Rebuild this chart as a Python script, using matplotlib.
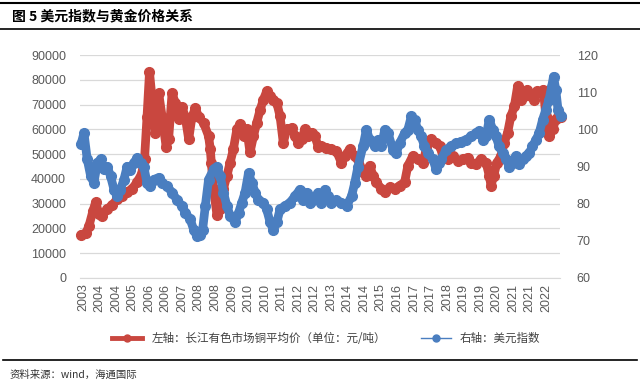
import matplotlib
matplotlib.use('Agg')
import matplotlib.pyplot as plt
from matplotlib.lines import Line2D

plt.rcParams['font.family'] = ['Noto Sans CJK SC', 'DejaVu Sans']

# 长江有色市场铜平均价 (元/吨)
cu_year = [2003.40, 2003.59, 2003.72, 2003.88, 2003.99, 2004.12, 2004.26, 2004.46, 2004.66, 2004.86,
           2005.06, 2005.26, 2005.46, 2005.66, 2005.84, 2005.96, 2006.06, 2006.16, 2006.27, 2006.40,
           2006.53, 2006.67, 2006.83, 2006.93, 2007.07, 2007.20, 2007.34, 2007.47, 2007.60, 2007.74,
           2007.87, 2008.01, 2008.14, 2008.34, 2008.54, 2008.61, 2008.65, 2008.74, 2008.88, 2009.01,
           2009.14, 2009.28, 2009.41, 2009.54, 2009.68, 2009.81, 2009.95, 2010.08, 2010.21, 2010.35,
           2010.48, 2010.62, 2010.75, 2010.88, 2011.02, 2011.15, 2011.29, 2011.42, 2011.55, 2011.69,
           2011.89, 2012.02, 2012.16, 2012.29, 2012.42, 2012.56, 2012.69, 2012.82, 2012.96, 2013.09,
           2013.29, 2013.49, 2013.69, 2013.89, 2014.03, 2014.23, 2014.43, 2014.56, 2014.76, 2014.90,
           2015.03, 2015.17, 2015.30, 2015.50, 2015.64, 2015.84, 2016.04, 2016.24, 2016.44, 2016.57,
           2016.77, 2016.97, 2017.18, 2017.31, 2017.51, 2017.71, 2017.85, 2017.98, 2018.18, 2018.38,
           2018.58, 2018.78, 2018.98, 2019.12, 2019.32, 2019.52, 2019.72, 2019.85, 2019.92, 2020.03,
           2020.16, 2020.32, 2020.45, 2020.59, 2020.72, 2020.86, 2020.99, 2021.12, 2021.26, 2021.39,
           2021.53, 2021.66, 2021.79, 2021.93, 2022.03, 2022.13, 2022.26, 2022.40, 2022.53, 2022.66,
           2022.74]
cu_val = [17500, 18000, 21000, 27000, 30600, 26000, 25000, 28000, 29300, 32000,
          33000, 34700, 36000, 38700, 42000, 48000, 65000, 83000, 72000, 58700,
          74600, 65000, 53000, 56000, 74600, 70600, 64000, 69000, 65000, 56000,
          65000, 68600, 65000, 62600, 57300, 52000, 46600, 36000, 25300, 28000,
          36000, 41300, 46600, 52000, 60000, 62000, 57300, 60000, 50700, 57300,
          62600, 68000, 72000, 75300, 73300, 72000, 70600, 65300, 54600, 60000,
          60600, 57300, 54600, 56000, 60000, 57300, 58600, 57300, 53000, 53300,
          52600, 52000, 51300, 46600, 49300, 52000, 49300, 48000, 42700, 41300,
          45300, 41300, 38700, 36000, 34700, 36700, 36000, 37300, 38700, 45300,
          49300, 48000, 46600, 52000, 56000, 54600, 53300, 49300, 48000, 49300,
          47300, 48000, 48600, 46600, 46000, 48000, 46600, 41300, 37300, 41300,
          46600, 49300, 54600, 58600, 65300, 69300, 77300, 72000, 73300, 76000,
          73300, 72000, 75300, 74600, 76000, 65300, 57300, 60000, 64000, 66000,
          65000]

# 美元指数
usd_year = [2003.40, 2003.52, 2003.65, 2003.79, 2003.92, 2004.06, 2004.19, 2004.32, 2004.46, 2004.59,
            2004.73, 2004.86, 2004.99, 2005.13, 2005.26, 2005.39, 2005.53, 2005.66, 2005.80, 2005.93,
            2006.06, 2006.20, 2006.33, 2006.53, 2006.67, 2006.87, 2007.07, 2007.27, 2007.47, 2007.60,
            2007.80, 2007.94, 2008.07, 2008.21, 2008.30, 2008.41, 2008.54, 2008.74, 2008.88, 2009.01,
            2009.14, 2009.28, 2009.41, 2009.61, 2009.75, 2009.88, 2010.01, 2010.15, 2010.28, 2010.42,
            2010.55, 2010.75, 2010.88, 2011.02, 2011.15, 2011.29, 2011.42, 2011.62, 2011.82, 2012.02,
            2012.22, 2012.36, 2012.49, 2012.62, 2012.76, 2012.96, 2013.09, 2013.23, 2013.36, 2013.49,
            2013.69, 2013.89, 2014.10, 2014.30, 2014.43, 2014.56, 2014.76, 2014.90, 2015.03, 2015.23,
            2015.37, 2015.50, 2015.64, 2015.77, 2015.97, 2016.10, 2016.24, 2016.44, 2016.57, 2016.71,
            2016.84, 2016.97, 2017.11, 2017.24, 2017.38, 2017.58, 2017.71, 2017.84, 2017.91, 2018.11,
            2018.31, 2018.51, 2018.71, 2018.92, 2019.12, 2019.32, 2019.45, 2019.59, 2019.72, 2019.85,
            2019.99, 2020.12, 2020.25, 2020.39, 2020.52, 2020.66, 2020.79, 2020.92, 2021.06, 2021.19,
            2021.33, 2021.46, 2021.59, 2021.73, 2021.86, 2022.00, 2022.13, 2022.26, 2022.36, 2022.44,
            2022.53, 2022.62, 2022.73]
usd_val = [96.0, 99.0, 92.0, 87.4, 85.6, 91.0, 91.9, 89.2, 90.0, 87.4,
           83.8, 82.0, 83.8, 86.5, 90.0, 89.0, 91.0, 92.3, 91.0, 90.0,
           85.6, 84.7, 86.5, 87.0, 85.6, 84.7, 83.0, 81.0, 79.4, 77.6,
           75.8, 73.0, 71.3, 71.5, 73.0, 79.4, 86.5, 89.2, 90.0, 87.4,
           83.0, 79.4, 76.7, 75.0, 77.6, 80.3, 83.0, 88.3, 85.6, 83.0,
           81.0, 80.3, 78.5, 75.0, 73.0, 75.0, 78.5, 79.4, 80.3, 82.0,
           83.8, 81.0, 83.0, 80.3, 81.0, 83.0, 80.3, 83.8, 82.0, 80.3,
           81.0, 80.3, 79.4, 82.0, 85.6, 90.0, 95.4, 99.9, 97.2, 95.4,
           97.2, 95.4, 99.9, 99.0, 94.5, 93.6, 96.3, 99.0, 99.9, 103.5,
           102.6, 99.9, 98.1, 95.4, 93.6, 91.9, 89.2, 91.0, 91.9, 94.5,
           95.4, 96.3, 96.7, 97.2, 98.1, 99.0, 99.5, 97.2, 98.1, 102.6,
           99.9, 98.1, 95.4, 93.6, 91.9, 90.0, 91.0, 92.8, 90.6, 91.9,
           92.8, 93.6, 95.4, 97.2, 99.0, 102.6, 105.3, 108.0, 111.5, 114.2,
           110.6, 105.3, 103.5]

tick_labels = ['2003', '2004', '2004', '2005', '2006', '2006', '2007', '2008', '2008', '2009',
               '2010', '2010', '2011', '2012', '2012', '2013', '2014', '2014', '2015', '2016',
               '2017', '2017', '2018', '2019', '2019', '2020', '2021', '2021', '2022']

red = '#C9473F'
blue = '#4A7EC0'
grey = '#595959'

fig = plt.figure(figsize=(6.4, 3.86), dpi=100)
ax = fig.add_axes([0.125, 0.2798, 0.75, 0.5777])
ax2 = ax.twinx()

ax.plot(cu_year, cu_val, color=red, lw=6.3, marker='o', ms=7, mec=red,
        solid_joinstyle='round', solid_capstyle='round', clip_on=False, zorder=2)
ax2.plot(usd_year, usd_val, color=blue, lw=6.3, marker='o', ms=7, mec=blue,
         solid_joinstyle='round', solid_capstyle='round', clip_on=False, zorder=3)

ax.set_xlim(2003.36, 2022.70)
ax.set_ylim(0, 90000)
ax.set_yticks(range(0, 90001, 10000))
ax2.set_ylim(60, 120)
ax2.set_yticks(range(60, 121, 10))
ax.grid(axis='y', color='#D9D9D9', lw=0.9)
ax.set_axisbelow(True)

ticks = [2003.48 + i * (2.0 / 3) for i in range(len(tick_labels))]
ax.set_xticks(ticks)
ax.set_xticklabels(tick_labels, rotation=90, fontsize=8.5, color=grey, family='Liberation Sans')
for a in (ax, ax2):
    for s in a.spines.values():
        s.set_visible(False)
    a.tick_params(length=0, labelsize=9, labelcolor=grey)
    for lab in a.get_yticklabels():
        lab.set_family('Liberation Sans')
ax.spines['bottom'].set_visible(True)
ax.spines['bottom'].set_color('#D9D9D9')
ax.tick_params(axis='y', pad=10)
ax2.tick_params(axis='y', pad=12)
ax.tick_params(axis='x', pad=4)

# header / footer
fig.add_artist(Line2D([0, 1], [0.993, 0.993], color='black', lw=1.5))
fig.add_artist(Line2D([0, 1], [0.925, 0.925], color='black', lw=1.2))
fig.text(0.018, 0.958, '图 5 美元指数与黄金价格关系', fontsize=10, fontweight='bold', va='center')
fig.add_artist(Line2D([0.005, 0.995], [0.068, 0.068], color='black', lw=1.2))
fig.text(0.015, 0.03, '资料来源：wind，海通国际', fontsize=7.5, va='center', color='#333333')

handles = [Line2D([], [], color=red, lw=3.5, marker='o', ms=5),
           Line2D([], [], color=blue, lw=1, marker='o', ms=5)]
fig.legend(handles, ['左轴：长江有色市场铜平均价（单位：元/吨）', '右轴：美元指数'],
           loc='center', bbox_to_anchor=(0.51, 0.124), ncol=2, frameon=False,
           fontsize=8.3, handlelength=2.6, columnspacing=3.0, labelcolor='#404040')

fig.savefig('out.png', dpi=100)
